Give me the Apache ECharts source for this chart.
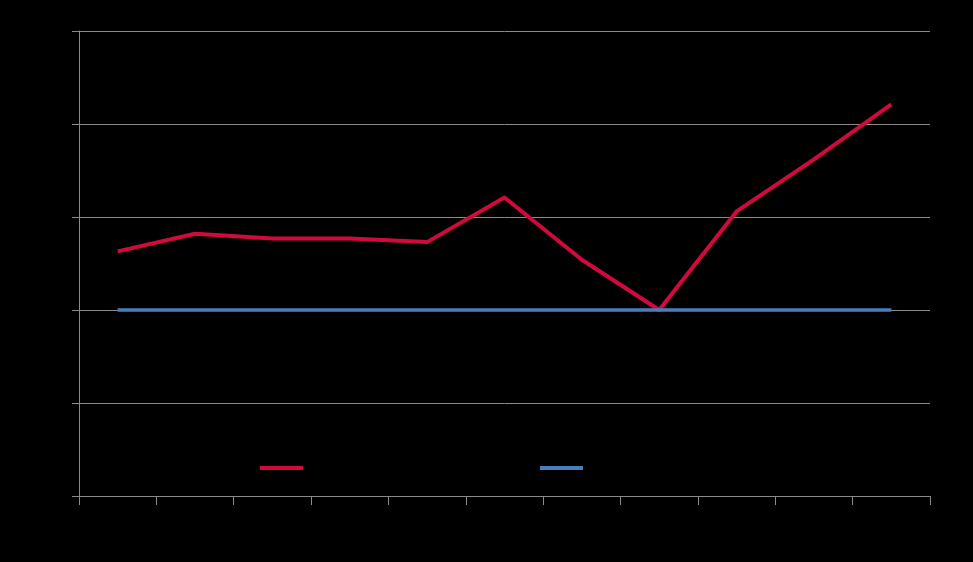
<!DOCTYPE html>
<html>
<head>
<meta charset="utf-8">
<script src="https://cdn.jsdelivr.net/npm/echarts@6/dist/echarts.min.js"></script>
<style>
html,body{margin:0;padding:0;background:#000;}
#c{width:973px;height:562px;}
</style>
</head>
<body>
<div id="c"></div>
<script>
const categories = ['1','2','3','4','5','6','7','8','9','10','11'];
const seriesA = [106.3, 108.2, 107.7, 107.7, 107.3, 112.1, 105.4, 100.0, 110.6, 116.2, 122.1];
const seriesB = [100, 100, 100, 100, 100, 100, 100, 100, 100, 100, 100];
const nameA = 'Series A';
const nameB = 'Series B';
const yMin = 80, yMax = 130, yInterval = 10;

const chart = echarts.init(document.getElementById('c'));
const gray = '#8a8a8a';
chart.setOption({
  backgroundColor: '#000',
  animation: false,
  textStyle: { fontFamily: 'Liberation Sans', color: '#000' },
  grid: { left: 79, right: 43, top: 31, bottom: 66, containLabel: false },
  legend: [
    { data: [nameA], left: 255, top: 457, itemWidth: 43, itemHeight: 4, icon: 'rect',
      textStyle: { color: '#000', fontSize: 12 } },
    { data: [nameB], left: 535, top: 457, itemWidth: 43, itemHeight: 4, icon: 'rect',
      textStyle: { color: '#000', fontSize: 12 } }
  ],
  xAxis: {
    type: 'category',
    data: categories,
    boundaryGap: true,
    axisLine: { lineStyle: { color: gray, width: 1 } },
    axisTick: { show: true, length: 9, lineStyle: { color: gray } },
    axisLabel: { color: '#000', margin: 12 },
    splitLine: { show: false }
  },
  yAxis: {
    type: 'value',
    min: yMin, max: yMax, interval: yInterval,
    axisLine: { show: true, lineStyle: { color: gray, width: 1 } },
    axisTick: { show: true, length: 7, lineStyle: { color: gray } },
    axisLabel: { color: '#000' },
    splitLine: { show: true, lineStyle: { color: gray, width: 1 } }
  },
  series: [
    { name: nameA, type: 'line', data: seriesA, symbol: 'none',
      lineStyle: { color: '#d20a3c', width: 4, join: 'round' }, itemStyle: { color: '#d20a3c' } , z: 3},
    { name: nameB, type: 'line', data: seriesB, symbol: 'none',
      lineStyle: { color: '#4a7ebb', width: 3.5 }, itemStyle: { color: '#4a7ebb' }, z: 4 }
  ]
});
</script>
</body>
</html>
